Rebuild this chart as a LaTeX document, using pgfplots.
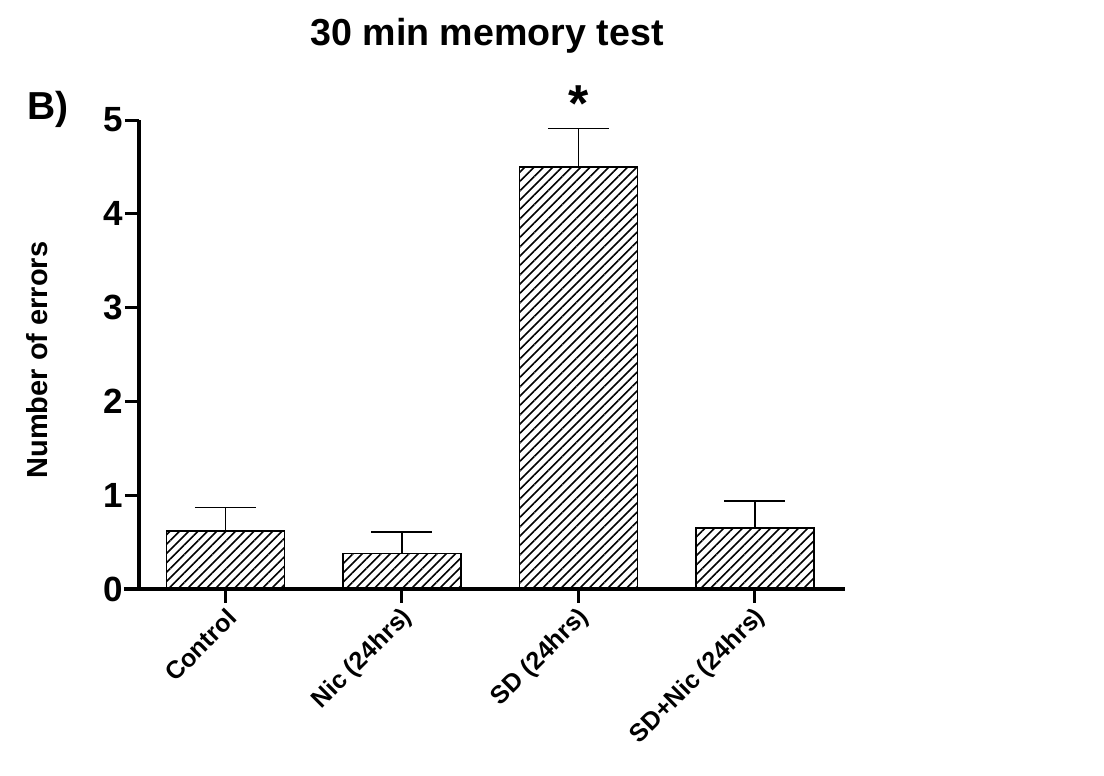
\documentclass[border=0pt]{standalone}
\usepackage{pgfplots}
\pgfplotsset{compat=1.18}
\usepackage{fontspec}
\setmainfont{Liberation Sans}
\usetikzlibrary{patterns.meta}

\begin{document}
\begin{tikzpicture}
\begin{axis}[
  at={(0,0)}, anchor=south west,
  scale only axis, width=353pt, height=234.5pt,
  xmin=-0.49, xmax=3.51, ymin=0, ymax=5,
  ybar, bar width=59pt,
  axis lines*=left,
  axis line style={line width=2pt},
  x axis line style={shorten <=-7.5pt},
  xtick={0,1,2,3},
  xticklabels={Control, Nic (24hrs), SD (24hrs), SD+Nic (24hrs)},
  ytick={0,1,2,3,4,5},
  tick align=outside,
  major tick length=7pt,
  tick style={line width=1.5pt, black},
  /pgf/number format/assume math mode=true,
  yticklabel style={font=\fontsize{17.5}{17.5}\selectfont\bfseries, inner sep=1pt},
  xticklabel style={font=\fontsize{12.5}{12.5}\selectfont\bfseries, rotate=45, anchor=east, xshift=2pt, yshift=-6pt},
  ylabel={Number of errors},
  every axis y label/.style={at={(axis description cs:-0.1445,0.488)}, rotate=90, anchor=center, font=\fontsize{14.5}{14.5}\selectfont\bfseries},
  clip=false,
]
\addplot[draw=black, line width=0.75pt, pattern={Lines[angle=45,distance=3.3pt,line width=0.8pt]}, pattern color=black,
  error bars/.cd, y dir=plus, y explicit,
  error bar style={line width=0.75pt, black},
  error mark options={rotate=90, mark size=15.25pt, line width=0.75pt, black}]
  coordinates {(0,0.62) +- (0,0.25) (1,0.38) +- (0,0.23) (2,4.50) +- (0,0.41) (3,0.65) +- (0,0.29)};
\node[font=\fontsize{26}{26}\selectfont\bfseries] at (axis cs:2,5.17) {*};
\end{axis}
\node[anchor=base, font=\fontsize{18.8}{18.8}\selectfont\bfseries] at (174pt,271.5pt) {30 min memory test};
\node[anchor=base west, inner sep=0pt, font=\fontsize{19.5}{19.5}\selectfont\bfseries] at (-56pt,234.5pt) {B)};
\pgfresetboundingbox
\path[use as bounding box] (-69.5pt,-93.5pt) rectangle (482.5pt,294.5pt);
\end{tikzpicture}
\end{document}
